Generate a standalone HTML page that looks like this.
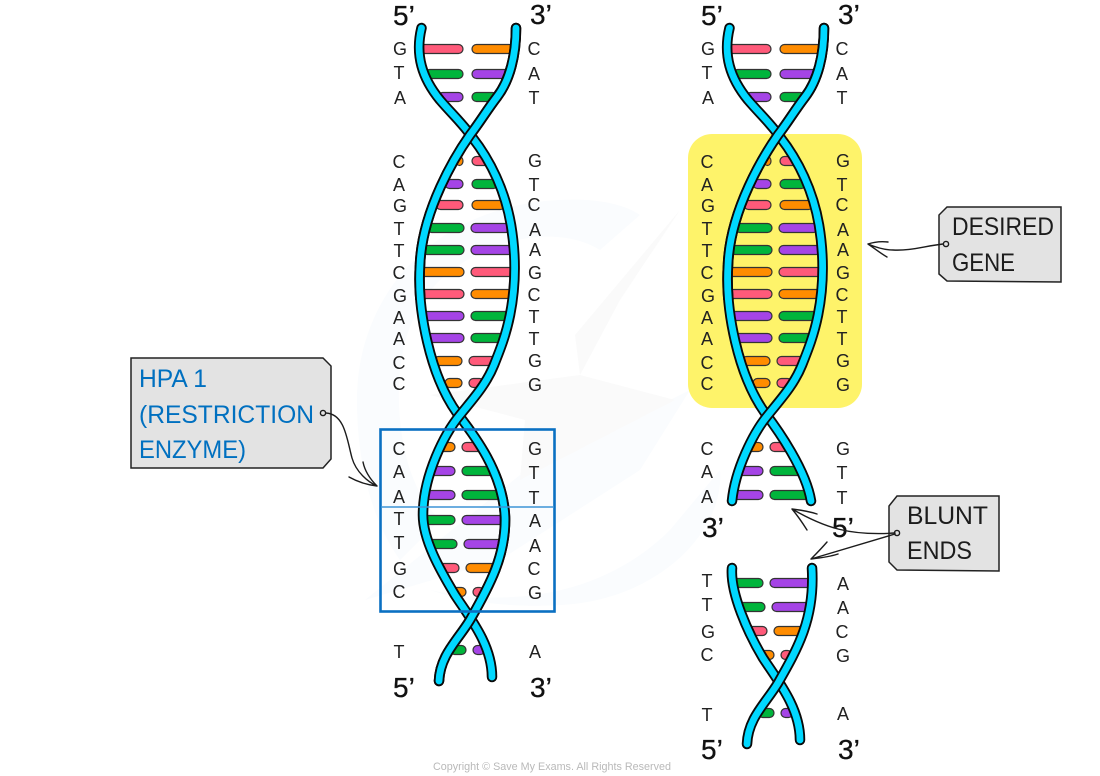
<!DOCTYPE html>
<html>
<head>
<meta charset="utf-8">
<style>
html,body{margin:0;padding:0;background:#fff;}
svg{display:block;}
text{font-family:"Liberation Sans",sans-serif;}
.l{font-size:18px;fill:#222;text-anchor:middle;}
.p{font-size:28px;fill:#111;stroke:#111;stroke-width:.3px;}
.t{font-size:25px;fill:#1c1c1c;}
.b{font-size:25px;fill:#0070c0;}
.o{fill:none;stroke:#0a0a0a;stroke-width:10.5;stroke-linecap:round;}
.c{fill:none;stroke:#00d8ff;stroke-width:6.8;stroke-linecap:round;}
.w{fill:none;stroke:#1c1c1c;stroke-width:1.4;stroke-linecap:round;stroke-linejoin:round;}
#r1 rect,#r2 rect{stroke:#333;stroke-width:1.2;height:9px;rx:4.5px;ry:4.5px;transform:translateY(-.5px);}
.pk{fill:#ff5a7a;}.or{fill:#ff8c00;}.gr{fill:#00b53c;}.pu{fill:#a544e6;}
</style>
</head>
<body>
<svg width="1100" height="776" viewBox="0 0 1100 776" xmlns="http://www.w3.org/2000/svg">
<defs>
<clipPath id="cpT"><rect x="300" y="0" width="300" height="300"/></clipPath>
<clipPath id="cpB"><rect x="300" y="470" width="300" height="300"/></clipPath>
<g id="r1">
<rect class="pk" x="420" y="45" width="43" height="8"/><rect class="or" x="472" y="45" width="42" height="8"/>
<rect class="gr" x="425" y="70" width="38" height="8"/><rect class="pu" x="472" y="70" width="38" height="8"/>
<rect class="pu" x="438" y="93" width="25" height="8"/><rect class="gr" x="472" y="93" width="25" height="8"/>
<rect class="or" x="456" y="157" width="7" height="8"/><rect class="pk" x="472" y="157" width="18" height="8"/>
<rect class="pu" x="445" y="180" width="18" height="8"/><rect class="gr" x="472" y="180" width="26" height="8"/>
<rect class="pk" x="436" y="201" width="27" height="8"/><rect class="or" x="472" y="201" width="33" height="8"/>
<rect class="gr" x="427" y="224" width="37" height="8"/><rect class="pu" x="471" y="224" width="39" height="8"/>
<rect class="gr" x="422" y="246" width="42" height="8"/><rect class="pu" x="471" y="246" width="42" height="8"/>
<rect class="or" x="419" y="268" width="45" height="8"/><rect class="pk" x="471" y="268" width="43" height="8"/>
<rect class="pk" x="419" y="290" width="45" height="8"/><rect class="or" x="471" y="290" width="42" height="8"/>
<rect class="pu" x="421" y="312" width="43" height="8"/><rect class="gr" x="471" y="312" width="39" height="8"/>
<rect class="pu" x="425" y="334" width="39" height="8"/><rect class="gr" x="471" y="334" width="33" height="8"/>
<rect class="or" x="434" y="357" width="28" height="8"/><rect class="pk" x="469" y="357" width="28" height="8"/>
<rect class="or" x="445" y="379" width="17" height="8"/><rect class="pk" x="469" y="379" width="15" height="8"/>
<rect class="or" x="439" y="443" width="16" height="8"/><rect class="pk" x="462" y="443" width="22" height="8"/>
<rect class="pu" x="430" y="467" width="25" height="8"/><rect class="gr" x="462" y="467" width="35" height="8"/>
<rect class="pu" x="425" y="491" width="30" height="8"/><rect class="gr" x="462" y="491" width="41" height="8"/>
</g>
<g id="r2">
<rect class="gr" x="423" y="516" width="32" height="8"/><rect class="pu" x="462" y="516" width="43" height="8"/>
<rect class="gr" x="428" y="540" width="29" height="8"/><rect class="pu" x="464" y="540" width="39" height="8"/>
<rect class="pk" x="437" y="564" width="22" height="8"/><rect class="or" x="466" y="564" width="30" height="8"/>
<rect class="or" x="450" y="588" width="16" height="8"/><rect class="pk" x="473" y="588" width="11" height="8"/>
<rect class="gr" x="450" y="646" width="16" height="8"/><rect class="pu" x="473" y="646" width="12" height="8"/>
</g>
</defs>

<!-- faint watermark -->
<g>
<path d="M357 400C357 290 440 205 560 200C600 198 625 205 640 215L600 250C560 225 490 235 440 280C405 315 395 365 400 420C405 470 420 500 440 520L400 560C375 525 357 470 357 400Z" fill="#fafcfe"/>
<path d="M430 590C520 610 610 590 670 530L720 470C725 530 660 600 560 605C510 608 465 602 430 590Z" fill="#fafcfe"/>
<path d="M365 600L520 475L690 390L640 470L500 560Z" fill="#fafcfe"/>
<path d="M430 395L580 375L575 335L680 210L620 300L580 375L675 400L520 480L525 420Z" fill="#fafafa"/>
</g>

<!-- yellow highlight -->
<rect x="688" y="134" width="174" height="274" rx="24" ry="24" fill="#fef36a"/>

<!-- left helix -->
<use href="#r1"/><use href="#r2"/>
<g id="hx">
<path id="pB" class="o" d="M516 28C516 55 510 80 497 97C487 110 480 122 470 135C456 155 422 210 420 265C417 310 430 375 457 413C470 430 503 470 505 517C506 555 490 585 470 620C458 640 440 655 439 681"/>
<path class="c" d="M516 28C516 55 510 80 497 97C487 110 480 122 470 135C456 155 422 210 420 265C417 310 430 375 457 413C470 430 503 470 505 517C506 555 490 585 470 620C458 640 440 655 439 681"/>
<path class="o" d="M421.5 28C415 55 422 78 440 100C452 114 463 124 472 137C490 160 505 190 511 225C516 255 516 285 510 315C506 335 500 350 494 365C486 385 472 400 460 415C445 433 423 475 423 515C423 540 440 570 455 595C470 618 492 645 492 677"/>
<path class="c" d="M421.5 28C415 55 422 78 440 100C452 114 463 124 472 137C490 160 505 190 511 225C516 255 516 285 510 315C506 335 500 350 494 365C486 385 472 400 460 415C445 433 423 475 423 515C423 540 440 570 455 595C470 618 492 645 492 677"/>
<g clip-path="url(#cpT)">
<path class="o" d="M516 28C516 55 510 80 497 97C487 110 480 122 470 135C456 155 422 210 420 265C417 310 430 375 457 413"/>
<path class="c" d="M516 28C516 55 510 80 497 97C487 110 480 122 470 135C456 155 422 210 420 265C417 310 430 375 457 413"/>
</g>
<g clip-path="url(#cpB)">
<path class="o" d="M457 413C470 430 503 470 505 517C506 555 490 585 470 620C458 640 440 655 439 681"/>
<path class="c" d="M457 413C470 430 503 470 505 517C506 555 490 585 470 620C458 640 440 655 439 681"/>
</g>
</g>

<!-- blue box -->
<rect x="380.5" y="429.5" width="174" height="182" fill="none" stroke="#0a70c2" stroke-width="2.6"/>
<line x1="381" y1="507" x2="554" y2="507" stroke="#3d94d6" stroke-width="1.6"/>

<!-- right top helix -->
<g transform="translate(308,0)">
<use href="#r1"/>
<path class="o" d="M516 28C516 55 510 80 497 97C487 110 480 122 470 135C456 155 422 210 420 265C417 310 430 375 457 413C470 430 498 470 503 501"/>
<path class="c" d="M516 28C516 55 510 80 497 97C487 110 480 122 470 135C456 155 422 210 420 265C417 310 430 375 457 413C470 430 498 470 503 501"/>
<path class="o" d="M421.5 28C415 55 422 78 440 100C452 114 463 124 472 137C490 160 505 190 511 225C516 255 516 285 510 315C506 335 500 350 494 365C486 385 472 400 460 415C445 433 427 470 424 501"/>
<path class="c" d="M421.5 28C415 55 422 78 440 100C452 114 463 124 472 137C490 160 505 190 511 225C516 255 516 285 510 315C506 335 500 350 494 365C486 385 472 400 460 415C445 433 427 470 424 501"/>
<g clip-path="url(#cpT)">
<path class="o" d="M516 28C516 55 510 80 497 97C487 110 480 122 470 135C456 155 422 210 420 265C417 310 430 375 457 413"/>
<path class="c" d="M516 28C516 55 510 80 497 97C487 110 480 122 470 135C456 155 422 210 420 265C417 310 430 375 457 413"/>
</g>
</g>

<!-- right bottom helix -->
<g transform="translate(308,63)">
<use href="#r2"/>
<path class="o" d="M424 505C422 530 440 570 455 595C470 618 492 645 492 677"/>
<path class="c" d="M424 505C422 530 440 570 455 595C470 618 492 645 492 677"/>
<path class="o" d="M504 505C507 555 490 585 470 620C458 640 440 655 439 681"/>
<path class="c" d="M504 505C507 555 490 585 470 620C458 640 440 655 439 681"/>
</g>

<!-- left helix letters -->
<g>
<text class="l" x="400" y="55">G</text><text class="l" x="399" y="79">T</text><text class="l" x="400" y="104">A</text>
<text class="l" x="399" y="168">C</text><text class="l" x="399" y="191">A</text><text class="l" x="400" y="212">G</text><text class="l" x="399" y="235">T</text><text class="l" x="399" y="257">T</text><text class="l" x="399" y="279">C</text><text class="l" x="400" y="302">G</text><text class="l" x="399" y="324">A</text><text class="l" x="399" y="345">A</text><text class="l" x="399" y="369">C</text><text class="l" x="399" y="390">C</text>
<text class="l" x="399" y="455">C</text><text class="l" x="399" y="478">A</text><text class="l" x="399" y="503">A</text><text class="l" x="399" y="525">T</text><text class="l" x="399" y="549">T</text><text class="l" x="400" y="575">G</text><text class="l" x="399" y="598">C</text><text class="l" x="399" y="658">T</text>
<text class="l" x="534" y="55">C</text><text class="l" x="534" y="80">A</text><text class="l" x="534" y="104">T</text>
<text class="l" x="535" y="167">G</text><text class="l" x="534" y="191">T</text><text class="l" x="534" y="211">C</text><text class="l" x="535" y="236">A</text><text class="l" x="535" y="256">A</text><text class="l" x="535" y="279">G</text><text class="l" x="534" y="301">C</text><text class="l" x="534" y="323">T</text><text class="l" x="534" y="345">T</text><text class="l" x="535" y="367">G</text><text class="l" x="535" y="391">G</text>
<text class="l" x="535" y="455">G</text><text class="l" x="534" y="479">T</text><text class="l" x="534" y="504">T</text><text class="l" x="535" y="527">A</text><text class="l" x="535" y="552">A</text><text class="l" x="534" y="575">C</text><text class="l" x="535" y="599">G</text><text class="l" x="535" y="658">A</text>
</g>
<!-- right helix letters -->
<g>
<text class="l" x="708" y="55">G</text><text class="l" x="707" y="79">T</text><text class="l" x="708" y="104">A</text>
<text class="l" x="707" y="168">C</text><text class="l" x="707" y="191">A</text><text class="l" x="708" y="212">G</text><text class="l" x="707" y="235">T</text><text class="l" x="707" y="257">T</text><text class="l" x="707" y="279">C</text><text class="l" x="708" y="302">G</text><text class="l" x="707" y="324">A</text><text class="l" x="707" y="345">A</text><text class="l" x="707" y="369">C</text><text class="l" x="707" y="390">C</text>
<text class="l" x="707" y="455">C</text><text class="l" x="707" y="478">A</text><text class="l" x="707" y="503">A</text>
<text class="l" x="842" y="55">C</text><text class="l" x="842" y="80">A</text><text class="l" x="842" y="104">T</text>
<text class="l" x="843" y="167">G</text><text class="l" x="842" y="191">T</text><text class="l" x="842" y="211">C</text><text class="l" x="843" y="236">A</text><text class="l" x="843" y="256">A</text><text class="l" x="843" y="279">G</text><text class="l" x="842" y="301">C</text><text class="l" x="842" y="323">T</text><text class="l" x="842" y="345">T</text><text class="l" x="843" y="367">G</text><text class="l" x="843" y="391">G</text>
<text class="l" x="843" y="455">G</text><text class="l" x="842" y="479">T</text><text class="l" x="842" y="504">T</text>
<text class="l" x="707" y="587">T</text><text class="l" x="707" y="611">T</text><text class="l" x="708" y="638">G</text><text class="l" x="707" y="661">C</text><text class="l" x="707" y="721">T</text>
<text class="l" x="843" y="590">A</text><text class="l" x="843" y="614">A</text><text class="l" x="842" y="638">C</text><text class="l" x="843" y="662">G</text><text class="l" x="843" y="720">A</text>
</g>

<!-- end labels -->
<text class="p" x="393" y="25">5’</text><text class="p" x="530" y="24">3’</text>
<text class="p" x="393" y="697">5’</text><text class="p" x="530" y="697">3’</text>
<text class="p" x="701" y="25">5’</text><text class="p" x="838" y="24">3’</text>
<text class="p" x="702" y="537">3’</text><text class="p" x="832" y="537">5’</text>
<text class="p" x="701" y="759">5’</text><text class="p" x="838" y="759">3’</text>

<!-- HPA tag -->
<path d="M131 358L323 358L331 366L331 459L323 468L131 468Z" fill="#e3e3e3" stroke="#222" stroke-width="1.5"/>
<text class="b" x="139" y="387" textLength="68" lengthAdjust="spacingAndGlyphs">HPA 1</text>
<text class="b" x="139" y="423" textLength="175" lengthAdjust="spacingAndGlyphs">(RESTRICTION</text>
<text class="b" x="139" y="458" textLength="107" lengthAdjust="spacingAndGlyphs">ENZYME)</text>
<circle cx="323" cy="413" r="2.6" fill="none" stroke="#1c1c1c" stroke-width="1.4"/>
<path class="w" d="M326 413C345 414 347 440 352 458C356 472 368 482 377 486M349 477C358 482 368 485 377 486M363 462C365 472 371 480 377 486"/>

<!-- Desired gene tag -->
<path d="M947 207L1061 207L1061 282L947 281L939 274L939 215Z" fill="#e3e3e3" stroke="#222" stroke-width="1.5"/>
<text class="t" x="952" y="235" textLength="102" lengthAdjust="spacingAndGlyphs">DESIRED</text>
<text class="t" x="952" y="271" textLength="63" lengthAdjust="spacingAndGlyphs">GENE</text>
<circle cx="946" cy="244" r="2.6" fill="none" stroke="#1c1c1c" stroke-width="1.4"/>
<path class="w" d="M943 244C925 246 910 251 893 250C885 250 875 247 868 244M888 242C880 241 874 242 868 244M887 257C880 253 874 248 868 244"/>

<!-- Blunt ends tag -->
<path d="M897 496L999 496L999 571L897 570L889 562L889 506Z" fill="#e3e3e3" stroke="#222" stroke-width="1.5"/>
<text class="t" x="907" y="524" textLength="81" lengthAdjust="spacingAndGlyphs">BLUNT</text>
<text class="t" x="907" y="559" textLength="65" lengthAdjust="spacingAndGlyphs">ENDS</text>
<circle cx="897" cy="533" r="2.6" fill="none" stroke="#1c1c1c" stroke-width="1.4"/>
<path class="w" d="M895 533C850 536 825 528 792 509M817 514C808 511 800 510 792 509M807 530C802 522 797 515 792 509"/>
<path class="w" d="M895 534L811 559M827 542C821 549 816 554 811 559M838 554C829 557 820 558 811 559"/>

<text x="433" y="770" font-size="11" fill="#b9b9b9" textLength="238" lengthAdjust="spacingAndGlyphs">Copyright © Save My Exams. All Rights Reserved</text>
</svg>
</body>
</html>
